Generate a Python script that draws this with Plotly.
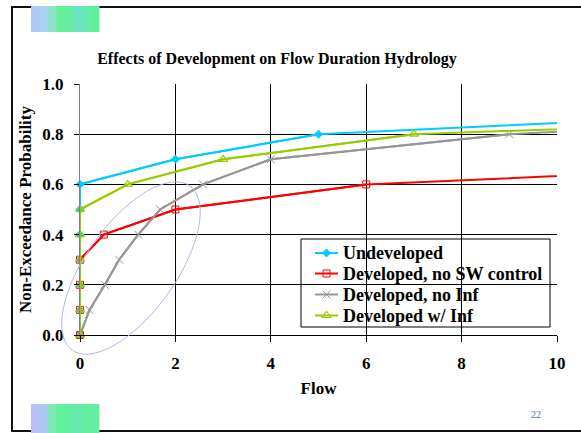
import math
import plotly.graph_objects as go

# ---------------- data ----------------
undev_x = [0, 0, 0, 0, 0, 0, 0, 2, 5, 15]
undev_y = [0.0, 0.1, 0.2, 0.3, 0.4, 0.5, 0.6, 0.70, 0.80, 0.89]

nosw_x = [0, 0, 0, 0, 0.5, 2, 6, 14]
nosw_y = [0.0, 0.1, 0.2, 0.3, 0.4, 0.5, 0.6, 0.666]

noinf_x = [0, 0.2, 0.52, 0.82, 1.22, 1.68, 2.58, 4, 9, 14]
noinf_y = [0.0, 0.1, 0.2, 0.3, 0.4, 0.5, 0.6, 0.70, 0.80, 0.85]

winf_x = [0, 0, 0, 0, 0, 0, 1, 3, 7, 13]
winf_y = [0.0, 0.1, 0.2, 0.3, 0.4, 0.5, 0.6, 0.70, 0.80, 0.84]

names = ["Undeveloped", "Developed, no SW control", "Developed, no Inf", "Developed w/ Inf"]
x_ticks = [0, 2, 4, 6, 8, 10]
y_ticks = [0.0, 0.2, 0.4, 0.6, 0.8, 1.0]
y_tick_text = ["0.0", "0.2", "0.4", "0.6", "0.8", "1.0"]

# ---------------- styles ----------------
series = [
    (undev_x, undev_y, "#00CCFF", dict(symbol="diamond", size=7, color="#00CCFF")),
    (nosw_x, nosw_y, "#FF0000", dict(symbol="square-open", size=7, color="#FF0000", line=dict(width=1))),
    (noinf_x, noinf_y, "#969696", dict(symbol="x-thin-open", size=8, color="#969696", line=dict(width=1, color="#969696"))),
    (winf_x, winf_y, "#99CC00", dict(symbol="triangle-up-open", size=8, color="#99CC00", line=dict(width=1.2))),
]

FONT = "Liberation Serif"
fig = go.Figure()

# plot-area geometry (pixels) used for decorations
L, R, T, B = 80, 557, 84, 335
W, H = 581, 433
XMIN, XMAX, YMIN, YMAX = 0, 10, 0, 1
sx = (R - L) / (XMAX - XMIN)
sy = (B - T) / (YMAX - YMIN)

def px2data(px, py):
    return XMIN + (px - L) / sx, YMIN + (B - py) / sy

def px2paper(px, py):
    return (px - L) / (R - L), (B - py) / (B - T)

for (xs, ys, col, mk), name in zip(series, names):
    # full line (runs past the axis end and is clipped)
    fig.add_trace(go.Scatter(x=xs, y=ys, mode="lines", line=dict(color=col, width=2),
                             showlegend=False, hoverinfo="skip"))
for (xs, ys, col, mk), name in zip(series, names):
    px = [x for x in xs if x <= XMAX]
    py = [y for x, y in zip(xs, ys) if x <= XMAX]
    fig.add_trace(go.Scatter(x=px, y=py, mode="lines+markers", name=name, showlegend=False,
                             line=dict(color=col, width=2), marker=mk, cliponaxis=False))

# ---------------- manual legend ----------------
LEG_L, LEG_T, LEG_R, LEG_B = 301, 239, 550, 327
row_y = [253, 273.5, 294.5, 315.5]
samp_x0, samp_x1, text_x = 315, 338, 341

shapes = []
lx0, ly0 = px2paper(LEG_L, LEG_B)
lx1, ly1 = px2paper(LEG_R, LEG_T)
shapes.append(dict(type="rect", xref="paper", yref="paper", x0=lx0, y0=ly0, x1=lx1, y1=ly1,
                   fillcolor="white", line=dict(color="black", width=1), layer="between"))
annotations = []
for (xs, ys, col, mk), name, ry in zip(series, names, row_y):
    a0 = px2data(samp_x0, ry)
    a1 = px2data(samp_x1, ry)
    am = px2data((samp_x0 + samp_x1) / 2, ry)
    fig.add_trace(go.Scatter(x=[a0[0], a1[0]], y=[a0[1], a1[1]], mode="lines",
                             line=dict(color=col, width=2), showlegend=False, hoverinfo="skip"))
    fig.add_trace(go.Scatter(x=[am[0]], y=[am[1]], mode="markers", marker=mk,
                             showlegend=False, hoverinfo="skip"))
    tx, ty = px2paper(text_x, ry)
    annotations.append(dict(text=f"<b>{name}</b>", xref="paper", yref="paper", x=tx, y=ty,
                            xanchor="left", yanchor="middle", showarrow=False,
                            font=dict(size=18, family=FONT, color="black")))

# ellipse (rotated) around the "no Inf" curve, in paper coords so it is not clipped
cxp, cyp, a, b, th = 131, 268, 101, 45, math.radians(54.4)
pts = []
for i in range(73):
    t = 2 * math.pi * i / 72
    ex = cxp + a * math.cos(th) * math.cos(t) - b * math.sin(th) * math.sin(t)
    ey = cyp - (a * math.sin(th) * math.cos(t) + b * math.cos(th) * math.sin(t))
    pts.append(px2paper(ex, ey))
path = "M " + " L ".join(f"{x:.5f},{y:.5f}" for x, y in pts) + " Z"
shapes.append(dict(type="path", path=path, xref="paper", yref="paper",
                   line=dict(color="#B4B4F0", width=1), layer="above"))

# slide border
x0, y0 = px2paper(12, 7)
x1, y1 = px2paper(584, 431)
shapes.append(dict(type="rect", xref="paper", yref="paper", x0=x0, y0=y1, x1=x1, y1=y0,
                   line=dict(color="#111111", width=2), layer="below"))

# gradient decorations
def gradient_box(xa, xb, ya, yb, cols):
    n = len(cols)
    out = []
    for i, c in enumerate(cols):
        ax0 = xa + (xb - xa) * i / n
        ax1 = xa + (xb - xa) * (i + 1) / n
        p0 = px2paper(ax0, ya)
        p1 = px2paper(ax1, yb)
        out.append(dict(type="rect", xref="paper", yref="paper", x0=p0[0], x1=p1[0] + 0.001,
                        y0=p1[1], y1=p0[1], fillcolor=c, line=dict(width=0), layer="below"))
    return out

top_cols = ["#B0C8F6", "#A8D2F2", "#8EE2C8", "#66F09C", "#62EE9E", "#6CE2C6", "#66EAB0", "#5EF096"]
bot_cols = ["#B8C0F6", "#AACAF2", "#7EE8B4", "#62F098", "#62EEA2", "#6AE8B0", "#62EE9E", "#64EEA4"]
shapes += gradient_box(31, 99, 6, 32, top_cols)
shapes += gradient_box(31, 99, 404, 433, bot_cols)

pn = px2paper(543, 422)
annotations.append(dict(text="22", xref="paper", yref="paper", x=pn[0], y=pn[1],
                        showarrow=False, font=dict(size=10, color="#4F74B0", family=FONT)))

fig.update_layout(
    width=W, height=H,
    margin=dict(l=L, r=W - R, t=T, b=H - B, pad=0),
    paper_bgcolor="white", plot_bgcolor="white",
    font=dict(family=FONT, color="black"),
    title=dict(text="<b>Effects of Development on Flow Duration Hydrology</b>",
               x=277 / W, xanchor="center", y=1 - 58 / H, yanchor="middle",
               font=dict(size=16, family=FONT)),
    xaxis=dict(range=[XMIN, XMAX], tickvals=x_ticks, ticktext=[f"<b>{v}</b>" for v in x_ticks],
               showgrid=True, gridcolor="black", gridwidth=1, zeroline=False,
               showline=True, linecolor="black", linewidth=1, mirror=False,
               ticks="outside", ticklen=6, tickcolor="black", tickfont=dict(size=17),
               ticklabelstandoff=7,
               title=dict(text="<b>Flow</b>", font=dict(size=17), standoff=9)),
    yaxis=dict(range=[YMIN, YMAX], tickvals=y_ticks, ticktext=[f"<b>{t}</b>" for t in y_tick_text],
               showgrid=True, gridcolor="black", gridwidth=1, zeroline=False,
               showline=True, linecolor="#808080", linewidth=1,
               ticks="outside", ticklen=5, tickcolor="black", tickfont=dict(size=17),
               ticklabelstandoff=7,
               title=dict(text="<b>Non-Exceedance Probability</b>", font=dict(size=17), standoff=6)),
    shapes=shapes,
    annotations=annotations,
    showlegend=False,
)

fig.write_html("out.html", config={"displayModeBar": False},
               post_script="document.body.style.margin='0';")
